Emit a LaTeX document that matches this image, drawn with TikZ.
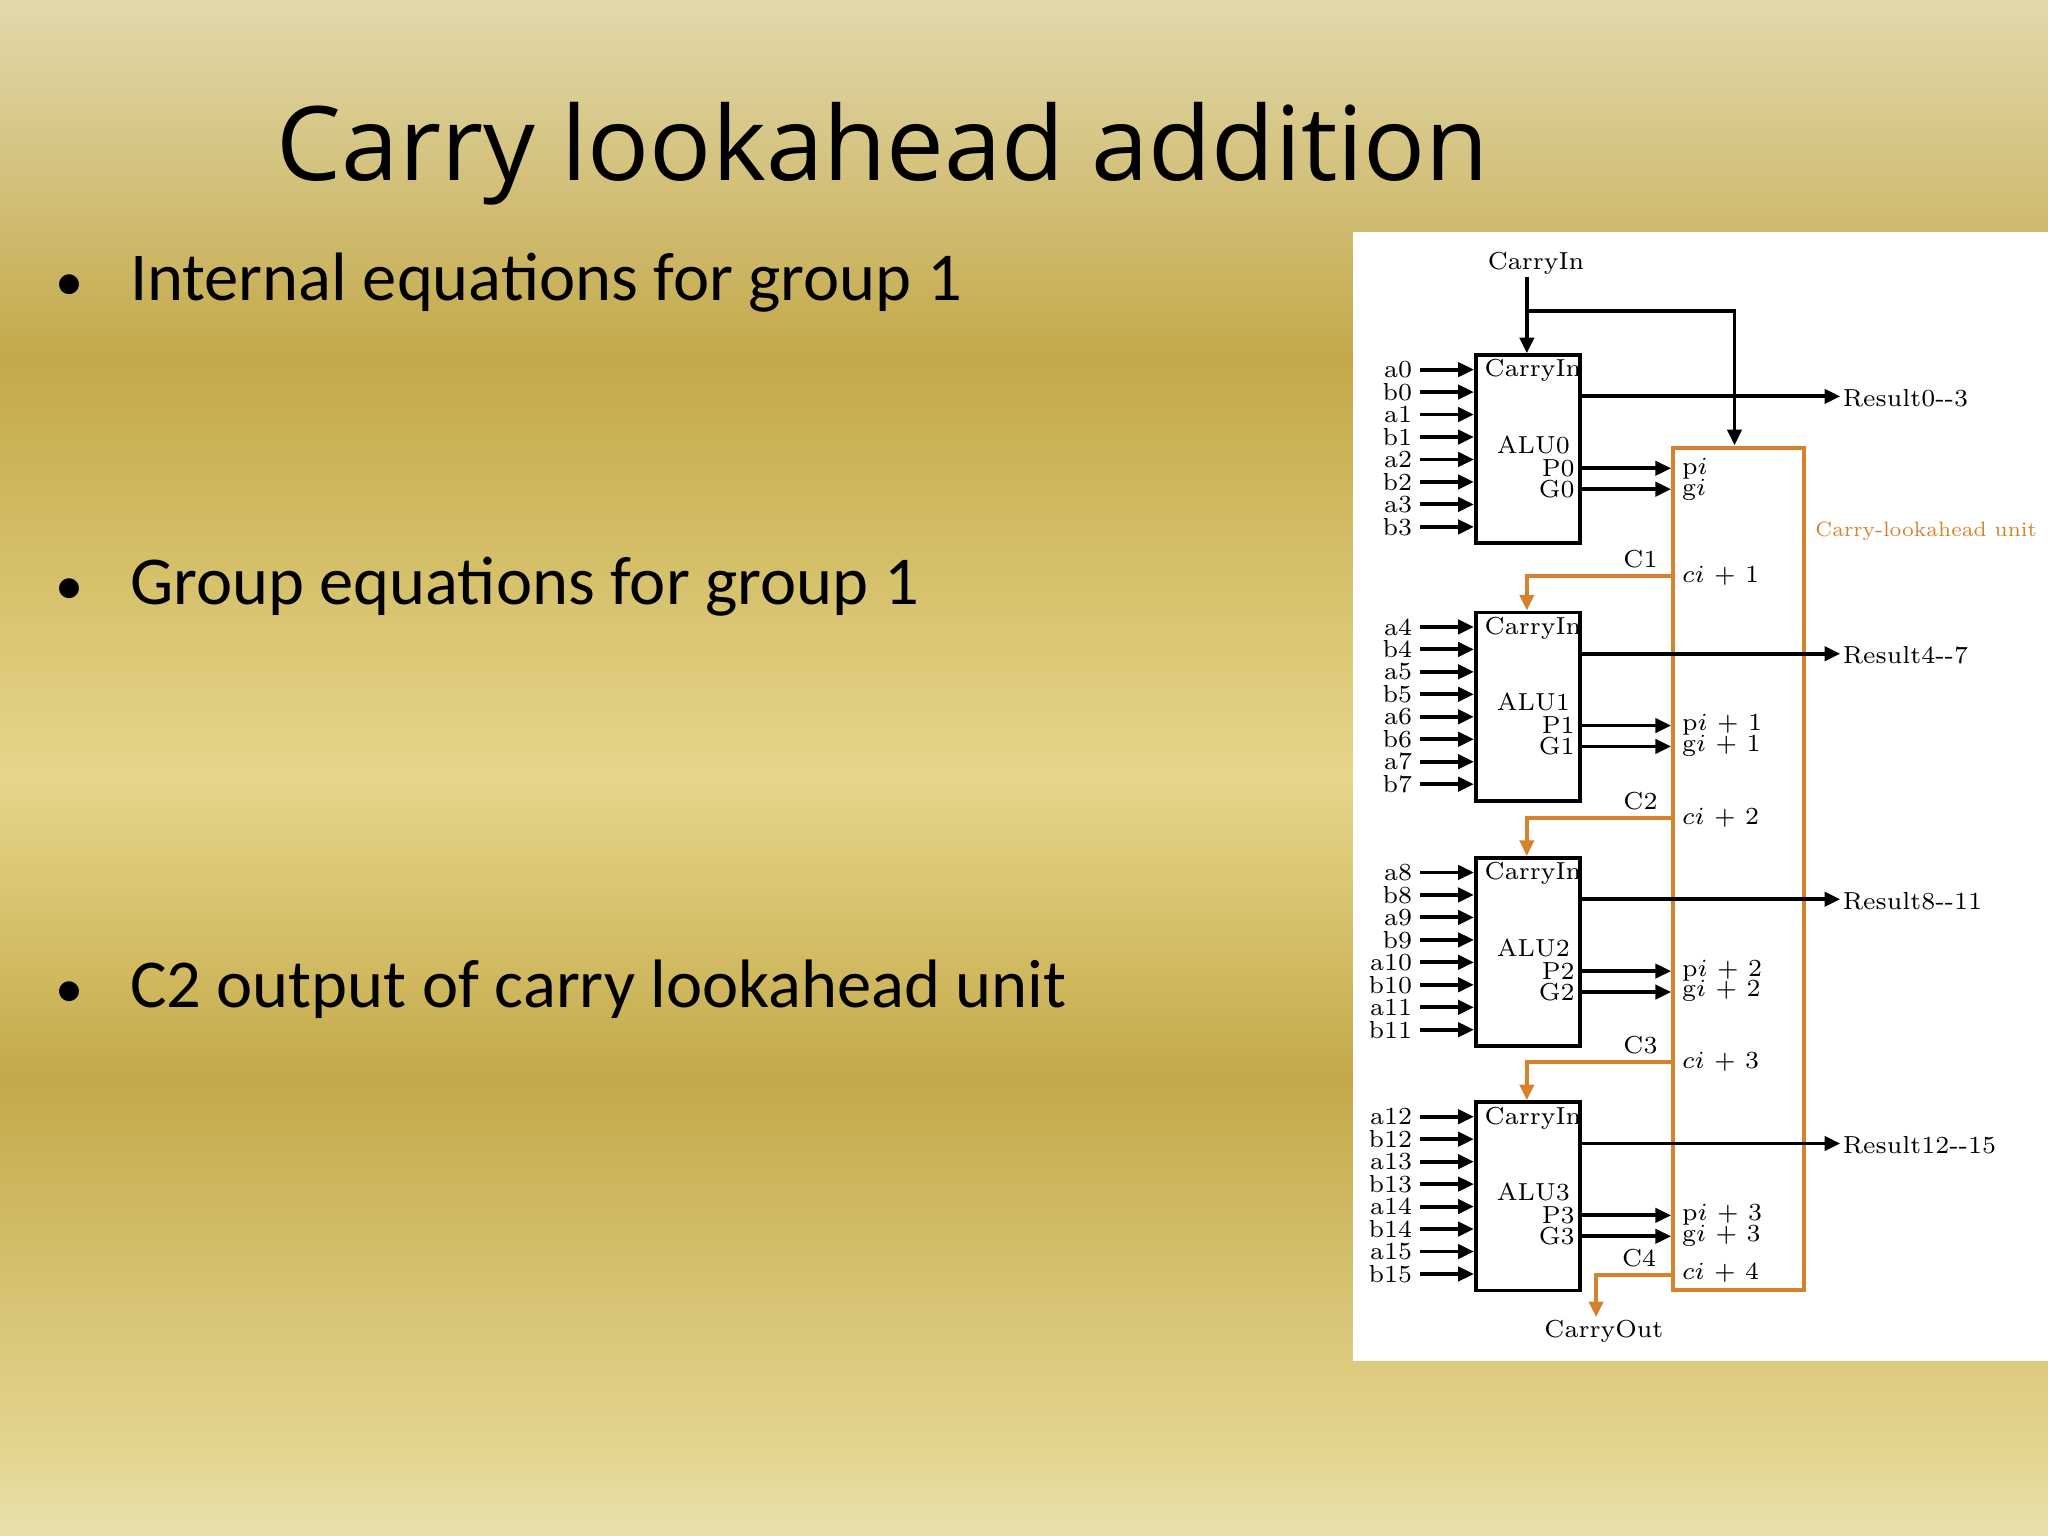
\documentclass[tikz,border=0pt]{standalone}
\usepackage{fontspec}
\usepackage{graphicx}
\newfontfamily\carl{Carlito}
\newfontfamily\opens{Open Sans}
\usetikzlibrary{calc,arrows.meta}
\definecolor{cla}{RGB}{214,130,45}
\definecolor{bgA}{HTML}{E8E0B0}
\definecolor{bgB}{HTML}{E4D690}
\definecolor{bgC}{HTML}{C4A94A}
\definecolor{bgD}{HTML}{E6D68A}
\definecolor{bgE}{HTML}{E2D9AC}
\pgfdeclareverticalshading{bgshade}{100bp}{color(0bp)=(bgA); color(25bp)=(bgA); color(27.6bp)=(bgB); color(39.9bp)=(bgC); color(49.7bp)=(bgD); color(63.3bp)=(bgC); color(75bp)=(bgE); color(100bp)=(bgE)}
\tikzset{
  wire/.style={line width=1.1pt,-{Triangle[length=4.5pt,width=4pt]}},
  owire/.style={line width=1.1pt,draw=cla,-{Triangle[length=4.5pt,width=4pt]}},
  alubox/.style={draw,line width=1.1pt,minimum width=1.045cm,minimum height=1.881cm,inner sep=0pt},
  dtxt/.style={font=\fontsize{7}{8}\selectfont,inner sep=0.5pt},
  bul/.style={font=\carl\fontsize{19.5}{22}\selectfont,anchor=base west,inner sep=0pt},
}
\begin{document}
\begin{tikzpicture}[x=0.013061cm,y=-0.013061cm]
\useasboundingbox (0,0) rectangle (1568,1176);
\shade[shading=bgshade] (0,0) rectangle (1568,1176);
\fill[white] (1036,178) rectangle (1568,1042);
\node[font=\opens\fontsize{29.3}{33}\selectfont,anchor=base,inner sep=0pt] (title) at (676,138) {Carry lookahead addition};
\node[bul] (b1) at (99,230) {Internal equations for group 1};
\node[bul] (b2) at (99,463) {Group equations for group 1};
\node[bul] (b3) at (99,771) {C2 output of carry lookahead unit};
\foreach \n/\yy in {d1/230,d2/463,d3/771} \node[bul,font=\carl\fontsize{16}{18}\selectfont] (\n) at (42,\yy) {•};
% carry lookahead unit
\node[draw=cla,line width=1.1pt,minimum width=1.306cm,minimum height=8.424cm,inner sep=0pt] (cla) at (1331,665.5) {};
\node[dtxt,text=cla,anchor=west] (clalab) at (1388,407) {\resizebox{63pt}{!}{Carry-lookahead unit}};
\node[dtxt] (cin) at (1176,202) {CarryIn};
\foreach \k/\T in {0/272,1/469,2/657,3/844}{
  \node[alubox] (alu\k) at (1170,\T+72) {};
  \node[dtxt,anchor=north east] (ci\k) at ($(alu\k.north east)+(1,3)$) {CarryIn};
  \node[dtxt] (nm\k) at ($(alu\k.north)+(4,70)$) {ALU\k};
  \node[dtxt,anchor=east] (P\k) at ($(alu\k.north east)+(-4,88)$) {P\k};
  \node[dtxt,anchor=east] (G\k) at ($(alu\k.north east)+(-4,104)$) {G\k};
  \coordinate (pp\k) at ($(alu\k.north east)+(0,88)$);
  \coordinate (gg\k) at ($(alu\k.north east)+(0,104)$);
  \draw[wire] (pp\k) -- (pp\k -| cla.west);
  \draw[wire] (gg\k) -- (gg\k -| cla.west);
  \coordinate (rr\k) at ($(alu\k.north east)+(0,33)$);
  \pgfmathtruncatemacro\lo{4*\k}
  \pgfmathtruncatemacro\hi{4*\k+3}
  \node[dtxt,anchor=west] (res\k) at (1409,\T+33) {Result\lo-{}-\hi};
  \draw[wire] (rr\k) -- (rr\k -| res\k.west);
  \foreach \r in {0,...,7}{
    \pgfmathtruncatemacro\bit{4*\k+int(\r/2)}
    \pgfmathsetmacro\ab{ifthenelse(mod(\r,2)==0,"a","b")}
    \node[dtxt,anchor=east] (in\k\r) at (1083,\T+11+17.2*\r) {\ab\bit};
    \draw[wire] ($(in\k\r.east)+(4,0)$) -- (in\k\r.east -| alu\k.west);
  }
}
% pi gi labels
\node[dtxt,anchor=west] (pl0) at (1286,359) {p$i$};
\node[dtxt,anchor=west] (gl0) at (1286,375) {g$i$};
\foreach \k/\T in {1/469,2/657,3/844}{
  \node[dtxt,anchor=west] (pl\k) at (1286,\T+86) {p$i$ + \k};
  \node[dtxt,anchor=west] (gl\k) at (1286,\T+102) {g$i$ + \k};
}
% carry-in top
\coordinate (br) at (1169,238);
\draw[line width=1.1pt] (cin.south -| br) -- (br);
\draw[wire] (br) -- (alu0.north -| br);
\draw[wire] (br) -- (1328,238) -- (1328,341);
% carries
\foreach \k/\Y/\nx in {1/441/1,2/626/2,3/813/3}{
  \node[dtxt,anchor=west] (cil\k) at (1286,\Y) {$ci$ + \k};
  \node[dtxt] (C\k) at (1256,\Y-13) {C\k};
  \coordinate (cc\k) at (cla.west |- 0,\Y);
  \draw[owire] (cc\k) -- (1169,\Y) -- (alu\nx.north -| 1169,0);
}
\node[dtxt,anchor=west] (cil4) at (1286,974) {$ci$ + 4};
\node[dtxt] (C4) at (1255,963) {C4};
\node[dtxt] (cout) at (1228,1019) {CarryOut};
\coordinate (cc4) at (cla.west |- 0,976);
\draw[owire] (cc4) -- (1222,976) -- (cout.north -| 1222,0);
\end{tikzpicture}
\end{document}
